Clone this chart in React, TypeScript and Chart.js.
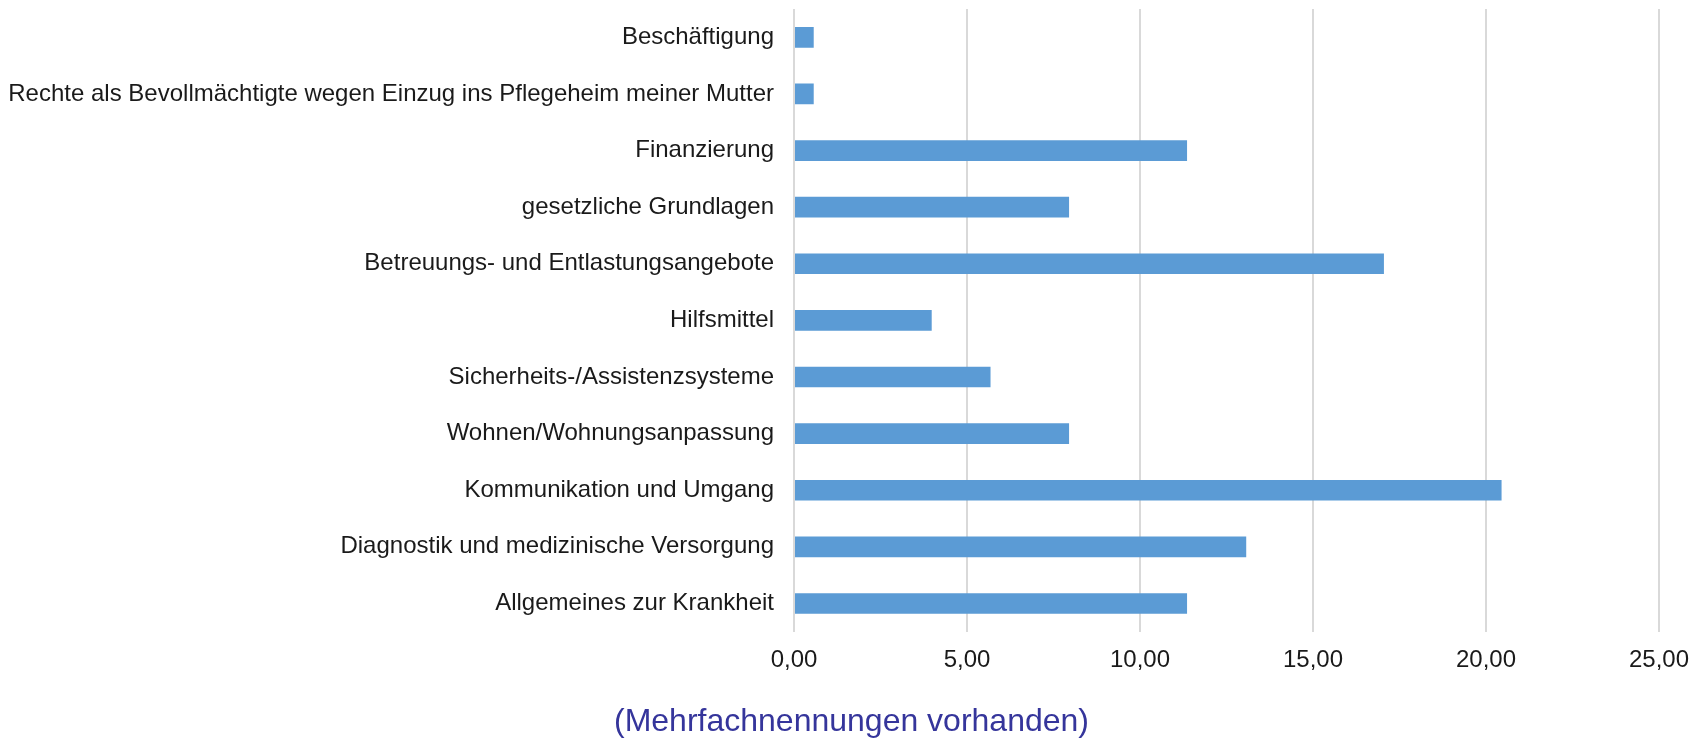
import React, { useEffect, useRef } from "react";
import { Chart, registerables } from "chart.js";

Chart.register(...registerables);

const categories: string[] = [
  "Beschäftigung",
  "Rechte als Bevollmächtigte wegen Einzug ins Pflegeheim meiner Mutter",
  "Finanzierung",
  "gesetzliche Grundlagen",
  "Betreuungs- und Entlastungsangebote",
  "Hilfsmittel",
  "Sicherheits-/Assistenzsysteme",
  "Wohnen/Wohnungsanpassung",
  "Kommunikation und Umgang",
  "Diagnostik und medizinische Versorgung",
  "Allgemeines zur Krankheit",
];

const values: number[] = [0.57, 0.57, 11.36, 7.95, 17.05, 3.98, 5.68, 7.95, 20.45, 13.07, 11.36];

const xTicks: number[] = [0, 5, 10, 15, 20, 25];

const footnote = "(Mehrfachnennungen vorhanden)";

const FONT = "'Liberation Sans', Arial, sans-serif";

export default function App() {
  const ref = useRef<HTMLCanvasElement | null>(null);

  useEffect(() => {
    document.body.style.margin = "0";
    const canvas = ref.current;
    if (!canvas) return;
    const chart = new Chart(canvas, {
      type: "bar",
      data: {
        labels: categories,
        datasets: [
          {
            data: values,
            backgroundColor: "#5B9BD5",
            borderWidth: 0,
            barPercentage: 0.365,
            categoryPercentage: 1,
          },
        ],
      },
      options: {
        indexAxis: "y",
        responsive: false,
        animation: false,
        devicePixelRatio: 1,
        layout: { padding: { left: 0, right: 0, top: 9, bottom: 0 } },
        plugins: {
          legend: { display: false },
          tooltip: { enabled: false },
          title: {
            display: true,
            position: "bottom",
            text: footnote,
            color: "#35359b",
            font: { family: FONT, size: 32, weight: "normal" },
            padding: { top: 14, bottom: 0 },
          },
        },
        scales: {
          x: {
            type: "linear",
            min: xTicks[0],
            max: xTicks[xTicks.length - 1],
            afterBuildTicks: (scale: any) => {
              scale.ticks = xTicks.map((v) => ({ value: v }));
            },
            afterFit: (scale: any) => {
              scale.paddingRight = 44;
            },
            grid: {
              display: true,
              color: "#d9d9d9",
              lineWidth: 2,
              drawTicks: false,
            },
            border: { display: false },
            ticks: {
              padding: 14,
              color: "#1a1a1a",
              font: { family: FONT, size: 24 },
              callback: (v: any) => Number(v).toFixed(2).replace(".", ","),
            },
          },
          y: {
            grid: { display: false, drawTicks: false },
            border: { display: false },
            afterFit: (scale: any) => {
              scale.width = 794;
              scale.paddingTop = 0;
              scale.paddingBottom = 0;
            },
            ticks: {
              padding: 20,
              color: "#1a1a1a",
              font: { family: FONT, size: 24 },
              autoSkip: false,
            },
          },
        },
      },
    });
    return () => chart.destroy();
  }, []);

  return (
    <div style={{ position: "absolute", left: 0, top: 0, width: 1703, height: 741, background: "#fff" }}>
      <canvas ref={ref} width={1703} height={741} />
    </div>
  );
}
